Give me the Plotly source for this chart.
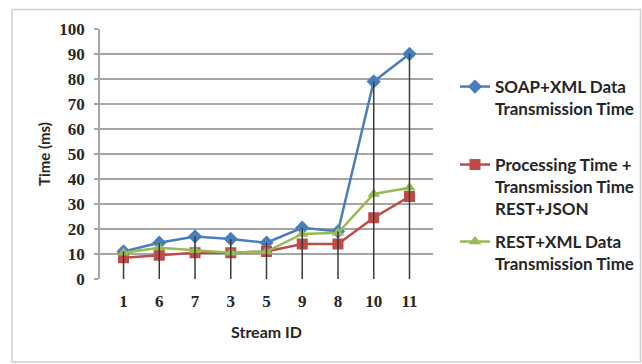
import plotly.graph_objects as go

# Stream IDs in the order they were measured
stream_ids = ["1", "6", "7", "3", "5", "9", "8", "10", "11"]

# Times in ms for each stream
soap_xml = [11, 14.5, 17, 16, 14.5, 20.5, 19, 79, 90]
rest_json = [8.5, 9.5, 10.5, 10.5, 11, 14, 14, 24.5, 33]
rest_xml = [10.5, 12.5, 11.5, 10.5, 11, 18, 18.5, 34, 36.5]

series_names = [
    "SOAP+XML Data<br>Transmission Time",
    "Processing Time +<br>Transmission Time<br>REST+JSON",
    "REST+XML Data<br>Transmission Time",
]
y_ticks = list(range(0, 101, 10))

BLUE = "#4a7ebb"
RED = "#be4b48"
GREEN = "#98b954"
TEXT = "#262626"

L, R, T, B = 100, 209, 29, 85
W, H = 642, 364
PW, PH = W - L - R, H - T - B

fig = go.Figure()

styles = [
    (soap_xml, BLUE, "diamond", 11),
    (rest_json, RED, "square", 11),
    (rest_xml, GREEN, "triangle-up", 11),
]
for i, ((vals, col, sym, size), name) in enumerate(zip(styles, series_names)):
    fig.add_trace(go.Scatter(
        x=stream_ids, y=vals, name=name, mode="lines+markers",
        line=dict(color=col, width=2.5),
        marker=dict(symbol=sym, size=size, color=col),
        legend="legend" if i == 0 else f"legend{i + 1}",
    ))

# Drop lines from the highest value of each stream down to the axis
drop_x, drop_y = [], []
for k, sid in enumerate(stream_ids):
    top = max(soap_xml[k], rest_json[k], rest_xml[k])
    drop_x += [sid, sid, None]
    drop_y += [top, 0, None]
fig.add_trace(go.Scatter(
    x=drop_x, y=drop_y, mode="lines", showlegend=False, hoverinfo="skip",
    line=dict(color="#3a3a3a", width=1.5),
))

# Outer chart frame
fig.add_shape(
    type="rect", xref="paper", yref="paper",
    x0=(12 - L) / PW, x1=(640.5 - L) / PW,
    y0=-(362 - T - PH) / PH, y1=(H - B - 9.5) / PH,
    line=dict(color="#d0d0d0", width=1.5), fillcolor="rgba(0,0,0,0)",
    layer="below",
)

legend_font = dict(family="Lato", size=17, color=TEXT, weight="bold")
legend_common = dict(
    xanchor="left", yanchor="top", font=legend_font, bgcolor="rgba(0,0,0,0)",
    valign="top", itemwidth=30, tracegroupgap=0,
)
lx = (455 - L) / PW

def ly(py):
    return (H - B - py) / PH

fig.update_layout(
    width=W, height=H,
    margin=dict(l=L, r=R, t=T, b=B, autoexpand=False),
    paper_bgcolor="white", plot_bgcolor="white",
    showlegend=True,
    legend=dict(x=lx, y=ly(69), **legend_common),
    legend2=dict(x=lx, y=ly(147), **legend_common),
    legend3=dict(x=lx, y=ly(224), **legend_common),
    xaxis=dict(
        title=dict(text="<b>Stream ID</b>", font=dict(family="Lato", size=16, color=TEXT), standoff=16),
        type="category", showgrid=False, zeroline=False, showline=False,
        tickfont=dict(family="Liberation Serif", size=17, color=TEXT, weight="bold"),
        ticks="", ticklabelstandoff=10,
    ),
    yaxis=dict(
        title=dict(text="<b>Time (ms)</b>", font=dict(family="Lato", size=15, color=TEXT), standoff=5),
        range=[0, 100], tickvals=y_ticks, ticktext=[str(v) for v in y_ticks],
        showgrid=True, gridcolor="#a6a6a6", gridwidth=1.5,
        zeroline=False, showline=True, linecolor="#a6a6a6", linewidth=1.5,
        ticks="outside", ticklen=4, tickcolor="#a6a6a6", tickwidth=1.5,
        ticklabelstandoff=6,
        tickfont=dict(family="Liberation Serif", size=17, color=TEXT, weight="bold"),
    ),
)

fig.write_html("out.html")
